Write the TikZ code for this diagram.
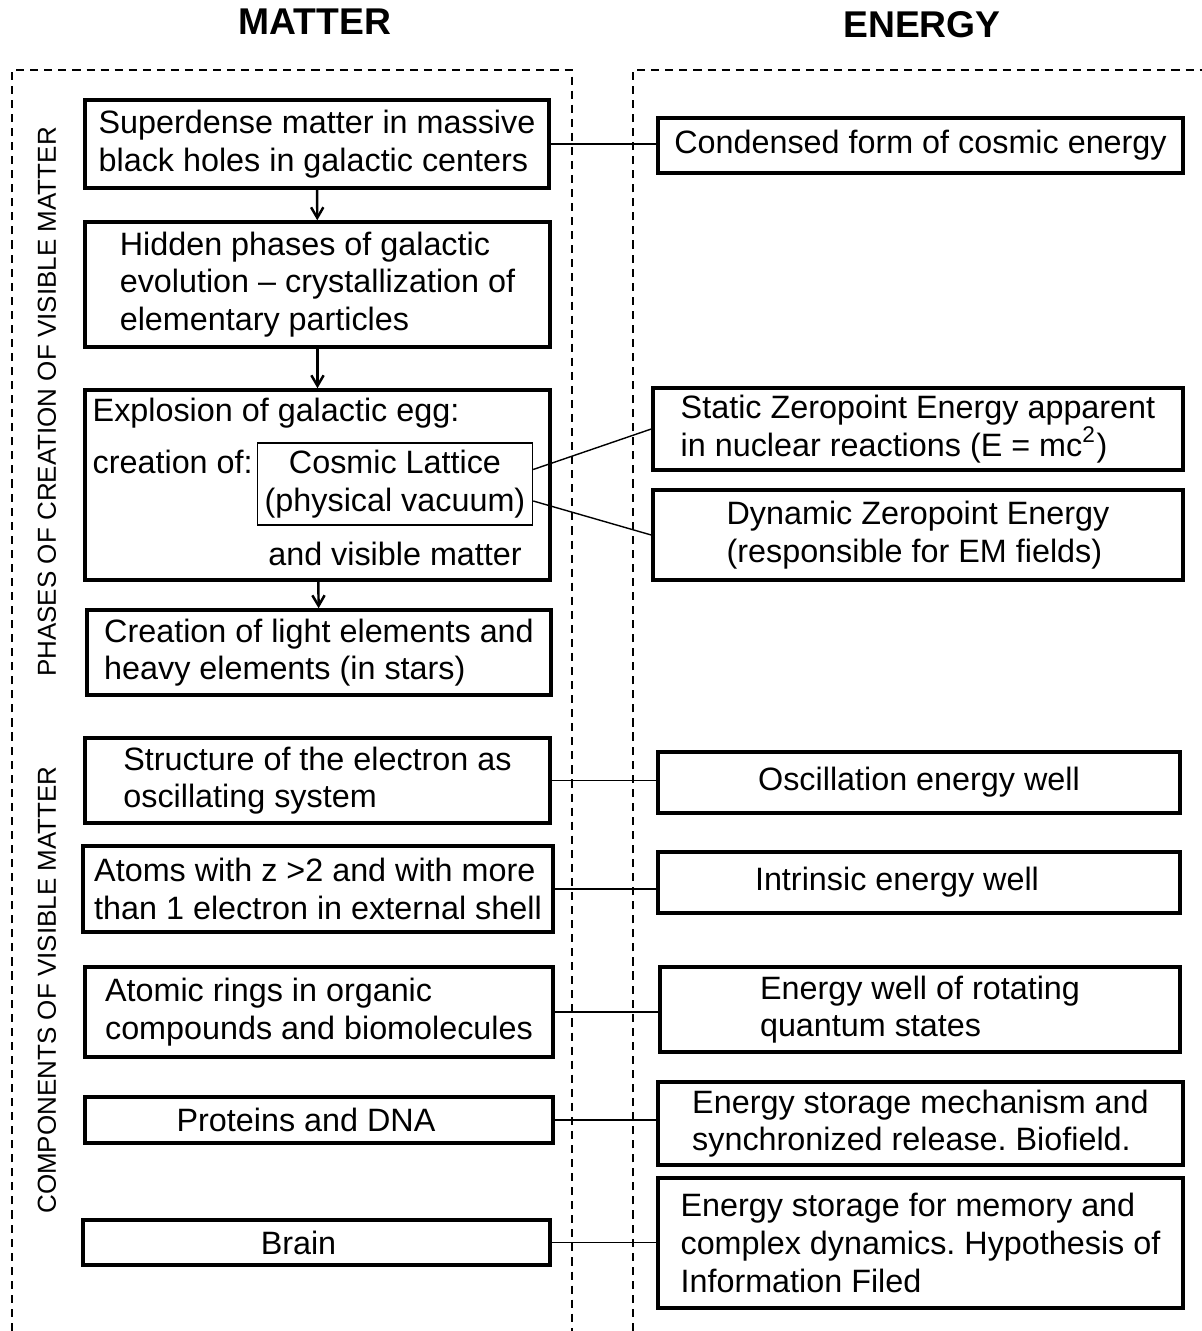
\documentclass[tikz,border=0pt]{standalone}
\usepackage{fontspec}
\setmainfont{Liberation Sans}
\usepackage{tikz}
\usetikzlibrary{arrows.meta, positioning}
\frenchspacing

\begin{document}
\begin{tikzpicture}[x=0.1mm, y=-0.1mm,
    box/.style={draw=black, line width=1pt, inner sep=2pt, align=left,
        font=\fontsize{9.2}{10.7}\selectfont},
    thinbox/.style={draw=black, line width=0.4pt, inner sep=1pt, align=center,
        font=\fontsize{9.2}{10.7}\selectfont},
    txt/.style={inner sep=0pt, font=\fontsize{9.2}{10.7}\selectfont},
    region/.style={draw=black, line width=0.5pt, dash pattern=on 2.3pt off 1.7pt},
    conn/.style={draw=black, line width=0.4pt},
    flow/.style={draw=black, line width=0.7pt, -{Straight Barb[length=3pt,width=3.5pt]}},
    head/.style={font=\fontsize{10.6}{12}\selectfont\bfseries},
    side/.style={rotate=90, font=\fontsize{7.4}{9}\selectfont}]

    \useasboundingbox (0,0) rectangle (1202,1331);

    % headings and regions
    \node[head] (matter) at (315,22) {MATTER};
    \node[head] (energy) at (922,25) {ENERGY};

    \draw[region] (12,1331) -- (12,70) -- (572,70) -- (572,1331);
    \draw[region] (633,1331) -- (633,70) -- (1202,70);

    \node[side] (phases) at (47,402) {PHASES OF CREATION OF VISIBLE MATTER};
    \node[side] (components) at (47,990) {COMPONENTS OF VISIBLE MATTER};

    % matter: phases
    \node[box, minimum width=46.4mm, minimum height=8.8mm] (superdense) at (317,144)
        {Superdense matter in massive\\black holes in galactic centers};
    \node[box, minimum width=46.5mm, minimum height=12.5mm] (hidden) at (317.5,284.5)
        {Hidden phases of galactic\\evolution – crystallization of\\elementary particles};
    \node[box, minimum width=46.5mm, minimum height=19mm] (explosion) at (317.5,485) {};
    \node[txt, anchor=west] (egg) at (92,413) {Explosion of galactic egg:};
    \node[txt, anchor=west] (creation) at (92,462) {creation of:};
    \node[thinbox, minimum width=27.5mm, minimum height=8.2mm] (lattice) at (395,484)
        {Cosmic Lattice\\(physical vacuum)};
    \node[txt] (visible) at (395,554) {and visible matter};
    \node[box, minimum width=46.4mm, minimum height=8.5mm] (lightel) at (319,652.5)
        {Creation of light elements and\\heavy elements (in stars)};

    \draw[flow] (superdense) -- (hidden);
    \draw[flow] (hidden) -- (explosion);
    \draw[flow] (explosion) -- (lightel);

    % matter: components
    \node[box, minimum width=46.5mm, minimum height=8.5mm] (electron) at (317.5,780.5)
        {Structure of the electron as\\oscillating system};
    \node[box, minimum width=47mm, minimum height=8.6mm] (atoms) at (318,889)
        {Atoms with z >2 and with more\\than 1 electron in external shell};
    \node[box, minimum width=46.8mm, minimum height=9mm] (rings) at (319,1012)
        {Atomic rings in organic\\compounds and biomolecules};
    \node[box, minimum width=46.8mm, minimum height=4.6mm] (proteins) at (319,1120)
        {Proteins and DNA\hspace*{2.6mm}};
    \node[box, minimum width=46.7mm, minimum height=4.5mm] (brain) at (316.5,1242.5)
        {Brain\hspace*{3.6mm}};

    % energy
    \node[box, minimum width=52.5mm, minimum height=5.5mm] (condensed) at (920.5,145.5)
        {Condensed form of cosmic energy};
    \node[box, minimum width=53mm, minimum height=8.2mm] (static) at (918,429)
        {Static Zeropoint Energy apparent\\in nuclear reactions (E = mc\textsuperscript{2})};
    \node[box, minimum width=53mm, minimum height=9mm] (dynamic) at (918,535)
        {Dynamic Zeropoint Energy\\(responsible for EM fields)};
    \node[box, minimum width=52.2mm, minimum height=6.1mm] (oscill) at (919,782.5)
        {Oscillation energy well};
    \node[box, minimum width=52.2mm, minimum height=6.1mm] (intrinsic) at (919,882.5)
        {Intrinsic energy well\hspace*{4.4mm}};
    \node[box, minimum width=52mm, minimum height=8.5mm] (rotating) at (920,1009.5)
        {Energy well of rotating\\quantum states};
    \node[box, minimum width=52.5mm, minimum height=8.3mm] (biofield) at (920.5,1123.5)
        {Energy storage mechanism and\\synchronized release. Biofield.};
    \node[box, minimum width=52.5mm, minimum height=13mm] (memory) at (920.5,1243)
        {Energy storage for memory and\\complex dynamics. Hypothesis of\\Information Filed};

    % links
    \draw[conn] (superdense.east) -- (superdense.east -| condensed.west);
    \draw[conn] (lattice.6) -- (static.west);
    \draw[conn] (lattice.-7) -- (dynamic.west);
    \draw[conn] (electron.east) -- (electron.east -| oscill.west);
    \draw[conn] (atoms.east) -- (atoms.east -| intrinsic.west);
    \draw[conn] (rings.east) -- (rings.east -| rotating.west);
    \draw[conn] (proteins.east) -- (proteins.east -| biofield.west);
    \draw[conn] (brain.east) -- (brain.east -| memory.west);

\end{tikzpicture}
\end{document}
